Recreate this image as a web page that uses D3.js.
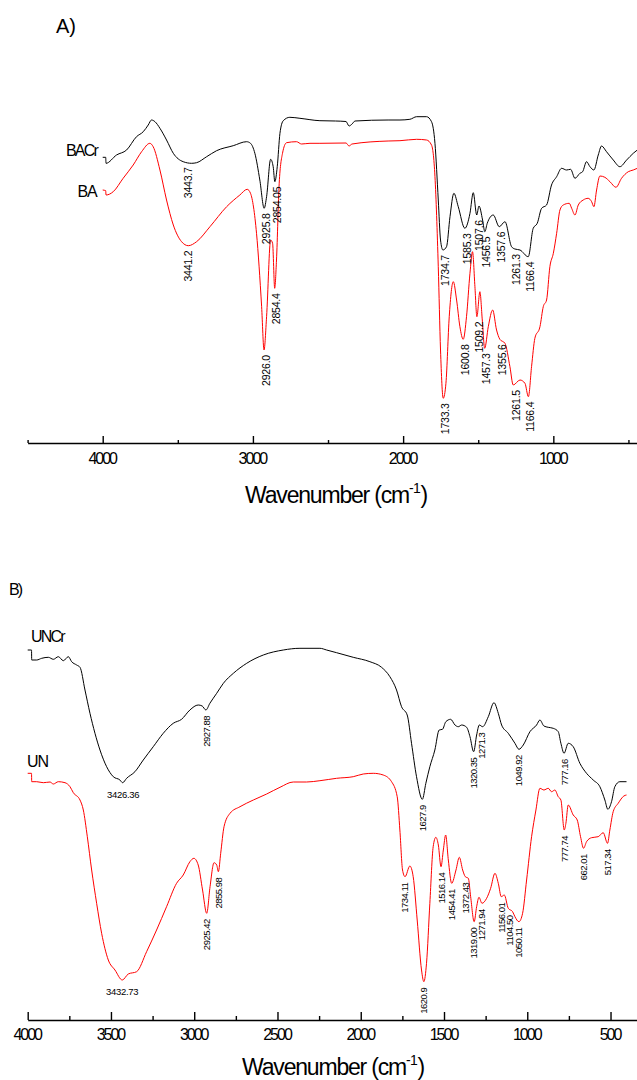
<!DOCTYPE html>
<html><head><meta charset="utf-8">
<script src="https://cdn.jsdelivr.net/npm/d3@7"></script>
<style>
html,body{margin:0;padding:0;background:#fff;}
svg{display:block;}
text{font-family:"Liberation Sans",Arial,sans-serif;fill:#000;}
</style></head>
<body>
<script>
// ---------------- DATA ----------------
// Panel A: [wavenumber (cm-1), intensity (arb. units)]
const baCrSpectrum = [
[4000,285.7],[3980,285.7],[3978,279.7],[3908,288],[3841,293],[3775,306.3],[3730,311.3],[3697,318],[3675,323],[3652,321.3],
[3619,314.7],[3575,303],[3530,289.7],[3464,281.3],[3408,279.7],[3375,280.3],[3308,286.3],[3242,292.3],[3131,297.3],[3042,301.3],
[3016,299.7],[2987,289.7],[2954,263],[2925,234.7],[2909,246.3],[2882,283.7],[2865,276.3],[2854,261.3],[2838,276.3],[2820,309.7],
[2798,322.3],[2754,325.7],[2687,324.7],[2554,322.3],[2450,322],[2380,321.5],[2360,317],[2340,319],[2320,322],[2100,323],
[2021,323],[1955,323.7],[1910,326.3],[1844,326.3],[1811,321.3],[1788,299.7],[1766,243],[1751,203],[1735,193],[1711,196.3],
[1688,226.3],[1662,249.7],[1633,236.3],[1589,214.7],[1555,229.7],[1533,250.3],[1510,228],[1495,237],[1471,223],[1456,211.3],
[1440,219.7],[1400,228],[1360,216.3],[1322,221.3],[1278,196.3],[1256,194],[1222,193],[1167,186.3],[1134,214.7],[1107,219.7],
[1078,234.7],[1045,238],[1012,258],[978,266.3],[945,274.7],[912,273],[885,273.7],[856,264.7],[823,269.7],[805,271.3],
[779,281.3],[756,276.3],[730,273],[701,288],[679,297],[646,291.3],[601,283],[557,276.3],[512,283],[468,289.7],[441,293]
];
const baSpectrum = [
[4000,253],[3980,252.3],[3978,248],[3930,251.3],[3864,264.7],[3797,278],[3741,291.3],[3686,299.7],[3664,296.3],[3619,273],
[3575,243],[3530,218],[3475,201.3],[3430,197.3],[3375,201.3],[3286,216.3],[3175,236.3],[3087,248],[3038,253.7],[3016,249.7],
[2976,209.7],[2942,136.3],[2926,93],[2909,126.3],[2882,203],[2869,199.7],[2855,154.7],[2843,183],[2825,259.7],[2803,289.7],
[2776,300.3],[2710,301.3],[2676,299],[2620,299.7],[2554,299.7],[2380,300],[2360,297],[2340,299],[2100,302],[2021,302.3],
[1910,303.7],[1844,303],[1811,298],[1788,266.3],[1766,176.3],[1751,93],[1733,44.7],[1715,59.7],[1693,126.3],[1666,161.3],
[1644,143],[1622,116.3],[1600,103.7],[1578,126.3],[1555,169.7],[1538,191.3],[1522,156.3],[1509,126.3],[1489,151.3],[1473,123],
[1457,94.7],[1433,116.3],[1404,133],[1378,113],[1356,103.7],[1322,99.7],[1289,76.3],[1267,58],[1222,63],[1189,59.7],
[1166,46.3],[1145,76.3],[1123,104.7],[1089,116.3],[1067,136.3],[1045,143],[1023,176.3],[1000,189.7],[978,209.7],[956,233],
[934,238],[894,239.7],[878,234.7],[856,228],[834,238],[801,243],[768,244.7],[745,241.3],[730,236.3],[712,253],
[690,267],[657,265.7],[623,261.3],[583,255.7],[546,264.7],[501,271.3],[468,273],[441,274.7]
];
const baCrPeaks = ["3443.7","2925.8","2854.05","1734.7","1585.3","1507.6","1456.5","1357.6","1261.3","1166.4"];
const baPeaks = ["3441.2","2926.0","2854.4","1733.3","1600.8","1509.2","1457.3","1355.6","1261.5","1166.4"];
const ticksAMajor = [4000,3000,2000,1000];
const ticksAMinor = [4500,3500,2500,1500,500];

// Panel B
const unCrSpectrum = [
[4000,370],[3977,370],[3976,360],[3946,360],[3916,361.7],[3876,362.7],[3846,360.7],[3816,363.3],[3786,359.3],[3756,363.3],
[3736,358.3],[3706,355],[3686,352.7],[3656,330],[3626,306.7],[3596,286.7],[3566,270],[3526,253.3],[3486,243.3],[3446,240],
[3430,237.3],[3406,241.7],[3356,248.3],[3306,260],[3246,273.3],[3186,286.7],[3126,296.7],[3076,300.7],[3026,310],[2976,315],
[2952,314],[2930,310],[2906,316.7],[2865,326.7],[2825,336.7],[2765,346.7],[2685,356.7],[2585,365],[2465,370],[2365,371.7],
[2245,371.7],[2205,370],[2145,367.3],[2045,362.7],[1945,358.3],[1875,352.7],[1825,343.3],[1785,330],[1755,313.3],[1721,305],
[1695,276.7],[1665,243.3],[1630,220.7],[1609,236.7],[1585,253.3],[1555,270],[1529,290],[1509,290.7],[1489,298.3],[1460,300.7],
[1434,295],[1414,293.3],[1394,295],[1364,292.7],[1344,283.3],[1322,268.3],[1304,285],[1288,295],[1268,293.3],[1234,303.3],
[1200,317.3],[1174,306.7],[1154,295],[1114,286.7],[1074,276.7],[1050,270.7],[1024,275],[984,288.3],[944,295],[924,300],
[900,294],[874,292.7],[844,291.7],[814,288.3],[798,276.7],[779,266.7],[754,276.7],[724,273.3],[684,256.7],[644,246.7],
[604,240],[564,233.3],[534,220],[516,210.7],[494,218.3],[474,233.3],[444,238.3],[404,238.3]
];
const unSpectrum = [
[4000,246.7],[3977,246.7],[3976,238.3],[3946,238.3],[3906,237.3],[3866,238],[3846,236],[3816,238.3],[3776,237.3],[3746,233.3],
[3726,227.3],[3686,220],[3666,210],[3642,183.3],[3616,150],[3586,116.7],[3556,86.7],[3516,60],[3476,50],[3432,40],
[3396,46],[3346,48.3],[3286,68.3],[3226,90],[3166,113.3],[3106,136.7],[3066,145],[3026,158.3],[3002,161.7],[2976,155],
[2950,130],[2925,106.7],[2905,133.3],[2881,157.3],[2865,155],[2855,148.3],[2841,166.7],[2821,193.3],[2785,206.7],[2725,213.3],
[2645,220],[2565,226],[2485,232.7],[2405,238],[2325,238],[2245,239.3],[2145,241.7],[2045,243.3],[1985,246],[1925,246.7],
[1865,245],[1815,238.3],[1781,223.3],[1765,190],[1749,150],[1734,143.3],[1705,154],[1685,143.3],[1661,100],[1635,50],
[1621,38.3],[1605,56.7],[1585,116.7],[1565,173.3],[1549,182.7],[1534,175],[1518,153.3],[1504,170],[1490,185],[1474,160],
[1454,136.7],[1428,150],[1408,162.7],[1388,150],[1372,143.3],[1354,141.7],[1340,123.3],[1319,98.3],[1304,113.3],[1290,122.7],
[1272,116.7],[1244,121.7],[1220,131.7],[1194,146.7],[1174,136.7],[1156,123.3],[1138,125],[1114,111.7],[1088,108.3],[1074,103.3],
[1050,98.3],[1028,106.7],[1004,140],[974,183.3],[948,210],[924,231.7],[900,230],[874,231.7],[854,228.3],[834,230],
[814,223.3],[798,220],[778,190],[768,196.7],[754,215],[724,205],[700,200],[680,183.3],[662,171.7],[644,178.3],
[614,182.3],[574,183.3],[544,187.3],[518,176.7],[504,190],[484,208.3],[454,216.7],[420,224],[404,225]
];
const unCrPeaks = ["3426.36","2927.88","1627.9","1320.35","1271.3","1049.92","777.16"];
const unPeaks = ["3432.73","2925.42","2855.98","1734.11","1620.9","1516.14","1454.41","1372.43","1319.00","1271.94",
                 "1156.01","1104.50","1050.11","777.74","662.01","517.34"];
const ticksBMajor = [4000,3500,3000,2500,2000,1500,1000,500];
const ticksBMinor = [3750,3250,2750,2250,1750,1250,750];

// ---------------- DRAWING ----------------
const W = 637, H = 1080;
const svg = d3.select("body").append("svg").attr("width", W).attr("height", H);

function drawPanel(cfg) {
  const g = svg.append("g");
  const line = d3.line().x(d => cfg.x(d[0])).y(d => cfg.y(d[1])).curve(d3.curveMonotoneX);
  cfg.series.forEach(s => {
    g.append("path").datum(s.data).attr("d", line)
      .attr("fill", "none").attr("stroke", s.color).attr("stroke-width", 1);
  });
  // peak labels
  cfg.series.forEach(s => {
    const interp = wn => {
      const d = s.data;
      for (let i = 0; i < d.length - 1; i++) {
        if ((d[i][0] - wn) * (d[i+1][0] - wn) <= 0) {
          const t = (wn - d[i][0]) / (d[i+1][0] - d[i][0]);
          return d[i][1] + t * (d[i+1][1] - d[i][1]);
        }
      }
      return d[d.length-1][1];
    };
    s.peaks.forEach(txt => {
      const wn = +txt;
      let v = interp(wn);
      s.data.forEach(p => { if (Math.abs(p[0] - wn) <= cfg.win && p[1] < v) v = p[1]; });
      const px = cfg.x(wn), py = cfg.y(v);
      if (cfg.horizontal && cfg.horizontal(wn)) {
        g.append("text").attr("x", px).attr("y", py + 15)
          .attr("text-anchor", "middle").attr("font-size", cfg.peakFont)
          .attr("letter-spacing", -0.3).text(txt);
      } else {
        g.append("text").attr("transform", `translate(${px + cfg.dx},${py + cfg.gap}) rotate(-90)`)
          .attr("text-anchor", "end").attr("dy", "0.35em")
          .attr("font-size", cfg.peakFont).attr("letter-spacing", cfg.peakLs).text(txt);
      }
    });
  });
  // axes
  const ax = g.append("g").attr("transform", `translate(0,${cfg.axisY})`)
    .call(d3.axisBottom(cfg.x).tickValues(cfg.major).tickSize(-cfg.majorLen)
      .tickSizeOuter(0).tickPadding(cfg.pad).tickFormat(d3.format("d")));
  ax.select(".domain").attr("stroke", "#000").attr("stroke-width", 1.6);
  ax.selectAll(".tick line").attr("stroke", "#000").attr("stroke-width", 1.4);
  ax.selectAll(".tick text").attr("font-size", 16).attr("letter-spacing", -2)
    .attr("font-family", '"Liberation Sans",Arial,sans-serif').attr("dx", -1);
  const mn = g.append("g").attr("transform", `translate(0,${cfg.axisY})`)
    .call(d3.axisBottom(cfg.x).tickValues(cfg.minor).tickSize(-cfg.minorLen).tickFormat(""));
  mn.select(".domain").remove();
  mn.selectAll(".tick line").attr("stroke", "#000").attr("stroke-width", 1.4);
  // axis title
  const t = g.append("text").attr("x", cfg.titleX).attr("y", cfg.titleY)
    .attr("text-anchor", "middle").attr("font-size", 23).attr("letter-spacing", -1.2);
  t.append("tspan").text("Wavenumber (cm");
  t.append("tspan").attr("dy", -10).attr("font-size", 14).attr("letter-spacing", -0.5).text("-1");
  t.append("tspan").attr("dy", 10).text(")");
  // series names
  cfg.names.forEach(n => {
    g.append("text").attr("x", n.x).attr("y", n.y).attr("text-anchor", n.anchor)
      .attr("font-size", 16).attr("letter-spacing", n.ls).text(n.text);
  });
  g.append("text").attr("x", cfg.tag.x).attr("y", cfg.tag.y)
    .attr("font-size", cfg.tag.size).attr("letter-spacing", cfg.tag.ls).text(cfg.tag.text);
}

const xA = d3.scaleLinear().domain([4500, 443]).range([27.6, 637]);
const yA = d3.scaleLinear().domain([0, 343]).range([443, 100]);
drawPanel({
  x: xA, y: yA,
  series: [{data: baCrSpectrum, color: "#000", peaks: baCrPeaks},
           {data: baSpectrum, color: "#ff0000", peaks: baPeaks}],
  win: 12, gap: 5, dx: 2, peakFont: 10.5, peakLs: -0.2,
  axisY: 443, major: ticksAMajor, minor: ticksAMinor, majorLen: 7, minorLen: 3, pad: 10,
  titleX: 336, titleY: 503,
  names: [{text: "BACr", x: 97, y: 156, anchor: "end", ls: -1.8},
          {text: "BA", x: 96.5, y: 197, anchor: "end", ls: -1.2}],
  tag: {text: "A)", x: 56, y: 33, size: 20, ls: 0}
});

const xB = d3.scaleLinear().domain([4000, 341]).range([27.7, 637]);
const yB = d3.scaleLinear().domain([0, 420]).range([1020, 600]);
drawPanel({
  x: xB, y: yB,
  series: [{data: unCrSpectrum, color: "#000", peaks: unCrPeaks},
           {data: unSpectrum, color: "#ff0000", peaks: unPeaks}],
  win: 12, gap: 6, dx: 0, peakFont: 9.5, peakLs: -0.5,
  horizontal: wn => wn > 3300,
  axisY: 1020, major: ticksBMajor, minor: ticksBMinor, majorLen: 8, minorLen: 4, pad: 9,
  titleX: 333, titleY: 1075,
  names: [{text: "UNCr", x: 31, y: 642, anchor: "start", ls: -1.8},
          {text: "UN", x: 27, y: 767, anchor: "start", ls: -1}],
  tag: {text: "B)", x: 9, y: 595, size: 16, ls: -2}
});
</script>
</body></html>
